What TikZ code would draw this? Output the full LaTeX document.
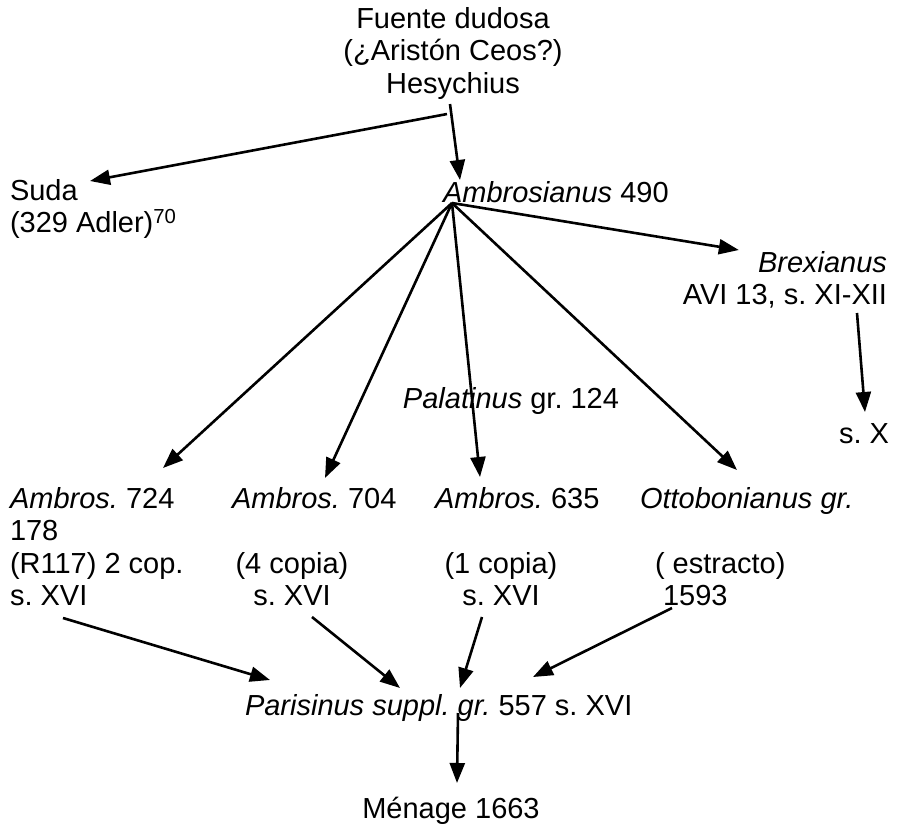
\documentclass[tikz,border=0pt]{standalone}
\usepackage{fontspec}
\setmainfont{Liberation Sans}
\usepackage{tikz}
\usetikzlibrary{arrows.meta,positioning}
\frenchspacing
\tikzset{
  %% Manuscript labels
  ms/.style={inner sep=0pt, outer sep=0pt, font=\fontsize{29}{32.5}\selectfont},
  msL/.style={ms, align=left},
  msC/.style={ms, align=center},
  msR/.style={ms, align=right},
  %% Filiation arrows
  fil/.style={-{Triangle[length=20pt,width=15pt]}, line width=2.6pt},
}

\begin{document}
\begin{tikzpicture}[x=1pt, y=-1pt]
\useasboundingbox (0,0) rectangle (898,825);

%% Source and first copies
\node[msC, anchor=north]      (src)  at (453,7)   {Fuente dudosa\\(¿Aristón Ceos?)\\Hesychius};
\node[msL, anchor=north west] (suda) at (10,179)  {Suda\\(329 Adler)\textsuperscript{70}};
\node[ms,  anchor=north west] (amb)  at (443,181) {\textit{Ambrosianus} 490};
\node[msR, anchor=north east] (brex) at (887,251) {\textit{Brexianus}\\AVI 13, s. XI-XII};
\node[ms,  anchor=north east] (sx)   at (889,424) {s. X};
\node[ms,  anchor=north]      (pal)  at (511,387) {\textit{Palatinus} gr. 124};

%% Copies of Ambrosianus 490
\node[msL, anchor=north west] (a724) at (10,487)  {\textit{Ambros.} 724\\178\\(R117) 2 cop.\\s. XVI};
\node[ms,  anchor=north west] (a704) at (232,487) {\textit{Ambros.} 704};
\node[msC, anchor=north]      (c704) at (292,552) {(4 copia)\\s. XVI};
\node[ms,  anchor=north west] (a635) at (435,487) {\textit{Ambros.} 635};
\node[msC, anchor=north]      (c635) at (501,552) {(1 copia)\\s. XVI};
\node[ms,  anchor=north west] (otto) at (640,487) {\textit{Ottobonianus gr.}};
\node[ms,  anchor=north west] (estr) at (655,552) {( estracto)};
\node[ms,  anchor=north west] (y1593) at (663,585) {1593};

%% Parisinus and Ménage
\node[ms,  anchor=north west] (par)  at (245,694) {\textit{Parisinus suppl. gr.} 557 s. XVI};
\node[ms,  anchor=north]      (men)  at (451,797) {Ménage 1663};

%% Hub below Ambrosianus
\coordinate (hub) at ([shift={(9,22)}]amb.north west);

%% Arrows
\draw[fil] ([shift={(-6,15)}]src.south) -- ([shift={(80,2)}]suda.north west);
\draw[fil] ([shift={(-3,5)}]src.south) -- ([shift={(17,-1)}]amb.north west);
\draw[fil] (hub) -- ([shift={(56,-1)}]brex.north west);
\draw[fil] (hub) -- ([shift={(153,-19)}]a724.north west);
\draw[fil] (hub) -- ([shift={(93,-9)}]a704.north west);
\draw[fil] (hub) -- ([shift={(45,-10)}]a635.north west);
\draw[fil] (hub) -- ([shift={(97,-17)}]otto.north west);
\draw[fil] ([shift={(-30,62)}]brex.north east) -- ([shift={(-24,-12)}]sx.north east);

\draw[fil] ([shift={(53,131)}]a724.north west) -- ([shift={(25,-14)}]par.north west);
\draw[fil] ([shift={(20,65)}]c704.north) -- ([shift={(155,-6)}]par.north west);
\draw[fil] ([shift={(-19,65)}]c635.north) -- ([shift={(215,-6)}]par.north west);
\draw[fil] ([shift={(9,23)}]y1593.north west) -- ([shift={(288,-17)}]par.north west);
\draw[fil] ([shift={(213,19)}]par.north west) -- ([shift={(6,-14)}]men.north);

\end{tikzpicture}
\end{document}
